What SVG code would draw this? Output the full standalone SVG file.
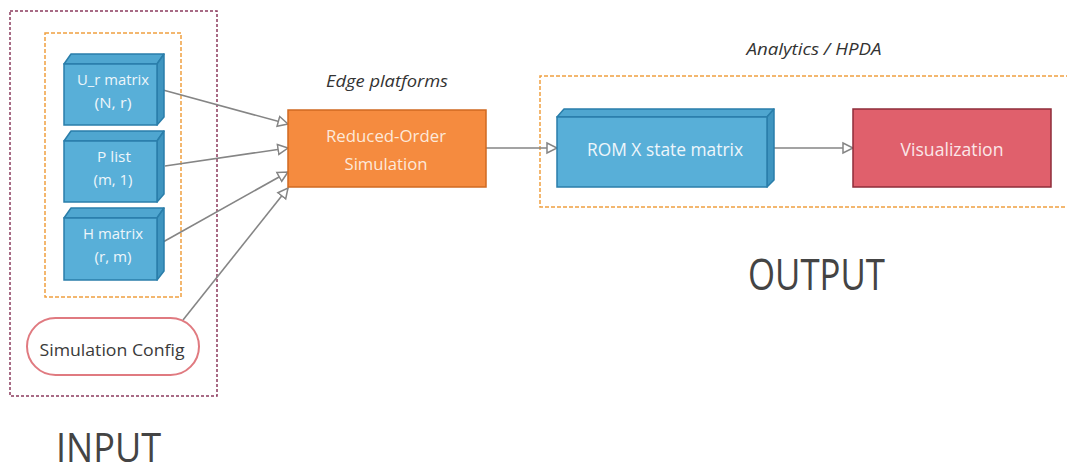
<svg xmlns="http://www.w3.org/2000/svg" width="1067" height="471" viewBox="0 0 1067 471">
  <style>
    .front { fill: #58afd8; stroke: #2a7eaa; stroke-width: 1.5; }
    .top { fill: #4fa6d0; stroke: #2a7eaa; stroke-width: 1.5; stroke-linejoin: round; }
    .side { fill: #3f95c0; stroke: #2a7eaa; stroke-width: 1.5; stroke-linejoin: round; }
    .lbl { font-family: "Open Sans", "Noto Sans", "DejaVu Sans", sans-serif; fill: #eef6fb; text-anchor: middle; }
    .cap { font-family: "Open Sans", "Noto Sans", sans-serif; fill: #333; font-style: italic; }
    .big { font-family: "Open Sans", "Noto Sans", sans-serif; fill: #444; }
    .edge { fill: none; stroke: #858585; stroke-width: 1.6; marker-end: url(#open); }
  </style>
  <defs>
    <marker id="open" markerUnits="userSpaceOnUse" markerWidth="14" markerHeight="14" refX="11" refY="6" orient="auto" viewBox="0 0 14 12">
      <path d="M1,1 L11,6 L1,11 Z" fill="#ffffff" stroke="#858585" stroke-width="1.5" stroke-linejoin="miter"/>
    </marker>
  </defs>
  <rect width="1067" height="471" fill="#ffffff"/>

  <!-- group frames -->
  <g id="input-frame">
    <rect x="10" y="11" width="207" height="385" fill="none" stroke="#8c3b5e" stroke-width="1.5" stroke-dasharray="3 2"/>
    <rect x="45" y="33" width="136" height="264" fill="none" stroke="#f0a040" stroke-width="1.5" stroke-dasharray="4 2"/>
  </g>
  <g id="analytics-frame">
    <path d="M1070,76 H540 V207 H1070" fill="none" stroke="#f0a040" stroke-width="1.5" stroke-dasharray="4 2"/>
  </g>

  <!-- connectors -->
  <g id="connectors">
    <path class="edge" d="M163,90 L288,124"/>
    <path class="edge" d="M165,166 L288,148"/>
    <path class="edge" d="M163,242 L288,172"/>
    <path class="edge" d="M183,320 L288,188"/>
    <path class="edge" d="M486,148 L557,148"/>
    <path class="edge" d="M774,148 L853,148"/>
  </g>

  <!-- input matrices -->
  <g id="ur-matrix">
    <polygon class="top" points="64,64 71,54 164,54 157,64"/>
    <polygon class="side" points="157,64 164,54 164,117 157,125"/>
    <rect class="front" x="64" y="64" width="93" height="61"/>
    <text class="lbl" x="113" y="85" font-size="15" textLength="72" lengthAdjust="spacingAndGlyphs">U_r matrix</text>
    <text class="lbl" x="113" y="108" font-size="15" textLength="37" lengthAdjust="spacingAndGlyphs">(N, r)</text>
  </g>
  <g id="p-list">
    <polygon class="top" points="64,141 71,131 164,131 157,141"/>
    <polygon class="side" points="157,141 164,131 164,194 157,202"/>
    <rect class="front" x="64" y="141" width="93" height="61"/>
    <text class="lbl" x="114" y="162" font-size="15" textLength="34" lengthAdjust="spacingAndGlyphs">P list</text>
    <text class="lbl" x="113" y="185" font-size="15" textLength="39" lengthAdjust="spacingAndGlyphs">(m, 1)</text>
  </g>
  <g id="h-matrix">
    <polygon class="top" points="64,218 71,208 164,208 157,218"/>
    <polygon class="side" points="157,218 164,208 164,271 157,280"/>
    <rect class="front" x="64" y="218" width="93" height="62"/>
    <text class="lbl" x="113" y="239" font-size="15" textLength="60" lengthAdjust="spacingAndGlyphs">H matrix</text>
    <text class="lbl" x="113" y="262" font-size="15" textLength="37" lengthAdjust="spacingAndGlyphs">(r, m)</text>
  </g>
  <g id="sim-config">
    <rect x="27" y="318" width="172" height="57" rx="28.5" fill="#ffffff" stroke="#e07a80" stroke-width="2"/>
    <text x="112" y="356" font-family="'Open Sans', 'Noto Sans', sans-serif" font-size="16" fill="#3a3a3a" text-anchor="middle" textLength="145" lengthAdjust="spacingAndGlyphs">Simulation Config</text>
  </g>

  <!-- processing -->
  <text class="cap" x="387" y="87" font-size="16" text-anchor="middle" textLength="122" lengthAdjust="spacingAndGlyphs">Edge platforms</text>
  <g id="reduced-order-sim">
    <rect x="288" y="110" width="198" height="77" fill="#f58b3f" stroke="#cf6a22" stroke-width="1.5"/>
    <text class="lbl" x="386" y="142" font-size="17" textLength="120" lengthAdjust="spacingAndGlyphs" style="fill:#fde9da">Reduced-Order</text>
    <text class="lbl" x="386" y="170" font-size="17" textLength="83" lengthAdjust="spacingAndGlyphs" style="fill:#fde9da">Simulation</text>
  </g>

  <!-- analytics -->
  <text class="cap" x="814" y="55" font-size="16" text-anchor="middle" textLength="135" lengthAdjust="spacingAndGlyphs">Analytics / HPDA</text>
  <g id="rom-state">
    <polygon class="top" points="557,117 564,109 774,109 767,117"/>
    <polygon class="side" points="767,117 774,109 774,180 767,187"/>
    <rect class="front" x="557" y="117" width="210" height="70"/>
    <text class="lbl" x="665" y="156" font-size="18" textLength="156" lengthAdjust="spacingAndGlyphs">ROM X state matrix</text>
  </g>
  <g id="visualization">
    <rect x="853" y="109" width="198" height="78" fill="#e0606c" stroke="#8f2d3a" stroke-width="1.5"/>
    <text class="lbl" x="952" y="156" font-size="18" textLength="103" lengthAdjust="spacingAndGlyphs" style="fill:#fbe6e8">Visualization</text>
  </g>

  <!-- section titles -->
  <text class="big" x="748" y="290" font-size="44" textLength="137" lengthAdjust="spacingAndGlyphs">OUTPUT</text>
  <text class="big" x="56" y="462" font-size="40" textLength="105" lengthAdjust="spacingAndGlyphs">INPUT</text>
</svg>
